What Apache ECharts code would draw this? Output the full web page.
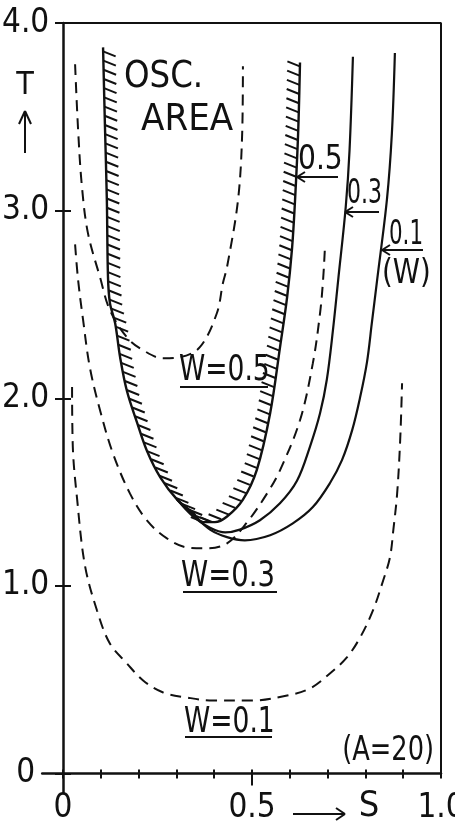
<!DOCTYPE html>
<html><head><meta charset="utf-8">
<script src="https://cdn.jsdelivr.net/npm/echarts@6/dist/echarts.min.js"></script>
<style>html,body{margin:0;padding:0;background:#fff}#c{width:455px;height:827px}</style>
</head><body><div id="c"></div>
<script>
// ---- axis definitions ----
const S_TICKS = [0, 0.1, 0.2, 0.3, 0.4, 0.5, 0.6, 0.7, 0.8, 0.9, 1.0];
const S_LABELS = [0, 0.5, 1.0];
const S_MAJOR = [0.5];
const T_TICKS = [0, 1, 2, 3, 4];
const S_MIN = -0.055, S_MAX = 1.0, T_MIN = -0.1, T_MAX = 4.0;

// ---- curves [S, T] ----
// solid W=0.5 (boundary of oscillation area, hatched)
const solidW05 = [[0.106,3.87],[0.111,3.45],[0.116,3.06],[0.119,2.65],[0.124,2.51],[0.138,2.40],[0.151,2.22],[0.169,2.04],[0.196,1.87],[0.222,1.72],[0.257,1.58],[0.302,1.46],[0.344,1.39],[0.370,1.34],[0.402,1.34],[0.434,1.37],[0.476,1.46],[0.513,1.62],[0.548,1.92],[0.574,2.27],[0.593,2.54],[0.606,2.80],[0.614,3.06],[0.622,3.41],[0.627,3.79]];
const solidW03 = [[0.302,1.46],[0.344,1.37],[0.389,1.31],[0.429,1.285],[0.468,1.30],[0.521,1.35],[0.574,1.44],[0.619,1.56],[0.653,1.74],[0.680,1.92],[0.698,2.10],[0.714,2.36],[0.728,2.63],[0.748,3.02],[0.758,3.32],[0.767,3.82]];
const solidW01 = [[0.302,1.46],[0.344,1.38],[0.389,1.30],[0.434,1.26],[0.481,1.243],[0.548,1.27],[0.608,1.333],[0.661,1.42],[0.706,1.547],[0.738,1.67],[0.765,1.83],[0.786,2.005],[0.804,2.19],[0.817,2.40],[0.831,2.63],[0.857,3.06],[0.870,3.41],[0.878,3.84]];
const dashW05 = [[0.032,3.78],[0.040,3.43],[0.050,3.13],[0.066,2.88],[0.098,2.645],[0.124,2.47],[0.169,2.325],[0.212,2.256],[0.265,2.213],[0.310,2.219],[0.362,2.272],[0.407,2.453],[0.423,2.613],[0.434,2.70],[0.463,3.056],[0.474,3.41],[0.476,3.77]];
const dashW03 = [[0.032,2.82],[0.040,2.63],[0.053,2.42],[0.071,2.165],[0.098,1.936],[0.132,1.707],[0.177,1.493],[0.222,1.349],[0.275,1.253],[0.328,1.205],[0.381,1.20],[0.434,1.227],[0.487,1.339],[0.540,1.493],[0.574,1.616],[0.627,1.883],[0.661,2.187],[0.680,2.453],[0.688,2.629],[0.693,2.805]];
const dashW01 = [[0.024,2.06],[0.026,1.74],[0.037,1.47],[0.058,1.11],[0.090,0.869],[0.124,0.693],[0.169,0.587],[0.212,0.496],[0.265,0.432],[0.328,0.405],[0.397,0.389],[0.503,0.389],[0.593,0.416],[0.653,0.453],[0.706,0.533],[0.751,0.619],[0.786,0.725],[0.820,0.869],[0.847,1.029],[0.865,1.152],[0.874,1.30],[0.884,1.493],[0.892,1.776],[0.897,2.08]];
const frame = [[0, T_MAX],[S_MAX, T_MAX],[S_MAX, 0]];

const FONT = "'DejaVu Sans Condensed', 'DejaVu Sans', sans-serif";
const INK = '#111';

const chart = echarts.init(document.getElementById('c'), null, {renderer: 'canvas'});

function fmt(v) { return v === 0 ? '{z|0}' : v.toFixed(1); }

function lineSeries(data, dashed, w) {
  return {
    type: 'line', data: data, smooth: 0.35, symbol: 'none', clip: false, silent: true,
    lineStyle: {color: INK, width: w || 2.2, type: dashed ? [11, 7] : 'solid', cap: 'butt'},
    z: 2
  };
}

function hatchRender(params, api) {
  const pts = solidW05.map(p => api.coord(p));
  let acc = [0];
  for (let i = 1; i < pts.length; i++) {
    const dx = pts[i][0]-pts[i-1][0], dy = pts[i][1]-pts[i-1][1];
    acc.push(acc[i-1] + Math.hypot(dx, dy));
  }
  const total = acc[acc.length-1];
  const step = 9.2, d0 = [12.5, 5];
  const children = [];
  let j = 1;
  for (let s = 4; s < total - 2; s += step) {
    while (j < pts.length - 1 && acc[j] < s) j++;
    const a = pts[j-1], b = pts[j];
    const L = acc[j] - acc[j-1] || 1;
    const f = (s - acc[j-1]) / L;
    const px = a[0] + (b[0]-a[0]) * f, py = a[1] + (b[1]-a[1]) * f;
    const tx = (b[0]-a[0]) / L, ty = (b[1]-a[1]) / L;
    const nx = ty, ny = -tx; // inner side
    const sg = (d0[0]*nx + d0[1]*ny) >= 0 ? 1 : -1;
    children.push({
      type: 'line',
      shape: {x1: px, y1: py, x2: px + sg*d0[0], y2: py + sg*d0[1]},
      style: {stroke: INK, lineWidth: 2}
    });
  }
  return {type: 'group', children: children};
}

function txt(text, x, y, size, align, sx) {
  return {type: 'text', x: x, y: y, scaleX: sx || 1, silent: true,
    style: {text: text, fontSize: size, fontFamily: FONT, fill: INK,
            textAlign: align || 'left', textVerticalAlign: 'middle'}};
}
function seg(x1, y1, x2, y2, w) {
  return {type: 'line', silent: true, shape: {x1, y1, x2, y2}, style: {stroke: INK, lineWidth: w || 2}};
}
function leftArrowLine(x1, x2, y) {
  return [seg(x1, y, x2, y), seg(x1, y, x1 + 8, y - 5), seg(x1, y, x1 + 8, y + 5)];
}

const axisLineStyle = {color: INK, width: 2.5};
const hiddenLine = {show: true, onZero: true, onZeroAxisIndex: 0, lineStyle: {color: INK, width: 2.5, opacity: 0}};
const tickStyle = {color: INK, width: 2};

const option = {
  animation: false,
  backgroundColor: '#fff',
  grid: {left: 42.2, right: 14, top: 23, bottom: 34.7, containLabel: false, outerBoundsMode: 'none'},
  xAxis: [
    {type: 'value', min: S_MIN, max: S_MAX, position: 'bottom',
     axisLine: {onZero: true, onZeroAxisIndex: 0, lineStyle: axisLineStyle},
     axisTick: {show: true, customValues: S_TICKS, length: 5, lineStyle: tickStyle},
     axisLabel: {customValues: S_LABELS, formatter: fmt, margin: 0, color: INK, fontSize: 33, fontFamily: FONT,
                 rich: {z: {fontSize: 33, fontFamily: FONT, color: INK}}},
     splitLine: {show: false}},
    {type: 'value', min: S_MIN, max: S_MAX, position: 'bottom',
     axisLine: hiddenLine,
     axisTick: {show: true, customValues: S_TICKS, inside: true, length: 4, lineStyle: tickStyle},
     axisLabel: {show: false}, splitLine: {show: false}},
    {type: 'value', min: S_MIN, max: S_MAX, position: 'bottom',
     axisLine: hiddenLine,
     axisTick: {show: true, customValues: S_MAJOR, length: 12, lineStyle: tickStyle},
     axisLabel: {show: false}, splitLine: {show: false}}
  ],
  yAxis: [
    {type: 'value', min: T_MIN, max: T_MAX, position: 'left',
     axisLine: {onZero: true, onZeroAxisIndex: 0, lineStyle: axisLineStyle},
     axisTick: {show: true, customValues: T_TICKS, length: 8, lineStyle: tickStyle},
     axisLabel: {customValues: T_TICKS, formatter: fmt, margin: -7, color: INK, fontSize: 33, fontFamily: FONT,
                 rich: {z: {fontSize: 33, fontFamily: FONT, color: INK, padding: [0, 14, 0, 0]}}},
     splitLine: {show: false}},
    {type: 'value', min: T_MIN, max: T_MAX, position: 'left',
     axisLine: hiddenLine,
     axisTick: {show: true, customValues: T_TICKS, inside: true, length: 8, lineStyle: tickStyle},
     axisLabel: {show: false}, splitLine: {show: false}}
  ],
  series: [
    Object.assign(lineSeries(frame, false, 2), {smooth: false}),
    lineSeries(solidW05, false, 2.4),
    lineSeries(solidW03, false, 2.2),
    lineSeries(solidW01, false, 2.2),
    lineSeries(dashW05, true, 2),
    lineSeries(dashW03, true, 2),
    lineSeries(dashW01, true, 2),
    {type: 'custom', coordinateSystem: 'cartesian2d', data: [solidW05[0]], renderItem: hatchRender,
     clip: false, silent: true, z: 3}
  ],
  graphic: [
    txt('T', 25, 86, 32, 'center'),
    seg(25, 111, 25, 153), seg(25, 111, 19, 124), seg(25, 111, 31, 124),
    seg(293, 814, 345, 814), seg(345, 814, 336, 808), seg(345, 814, 336, 820),
    txt('S', 369, 807, 36, 'center'),
    txt('OSC.', 124, 77, 38, 'left', 0.95),
    txt('AREA', 141, 120, 38),
    txt('W=0.5', 179, 371, 36, 'left', 0.82),
    seg(180, 387, 268, 387),
    txt('W=0.3', 181, 577, 36, 'left', 0.85),
    seg(183, 592, 277, 592),
    txt('W=0.1', 184, 723, 36, 'left', 0.82),
    seg(185, 737, 272, 737),
    txt('(A=20)', 434, 751, 34, 'right', 0.84),
    txt('0.5', 298, 160, 34, 'left', 0.92),
    ...leftArrowLine(297, 338, 177),
    txt('0.3', 347, 194, 34, 'left', 0.72),
    ...leftArrowLine(345, 379, 212),
    txt('0.1', 389, 235, 34, 'left', 0.7),
    ...leftArrowLine(382, 423, 250),
    txt('(W)', 382, 274, 34, 'left', 0.9)
  ]
};
chart.setOption(option);
</script>
</body></html>
